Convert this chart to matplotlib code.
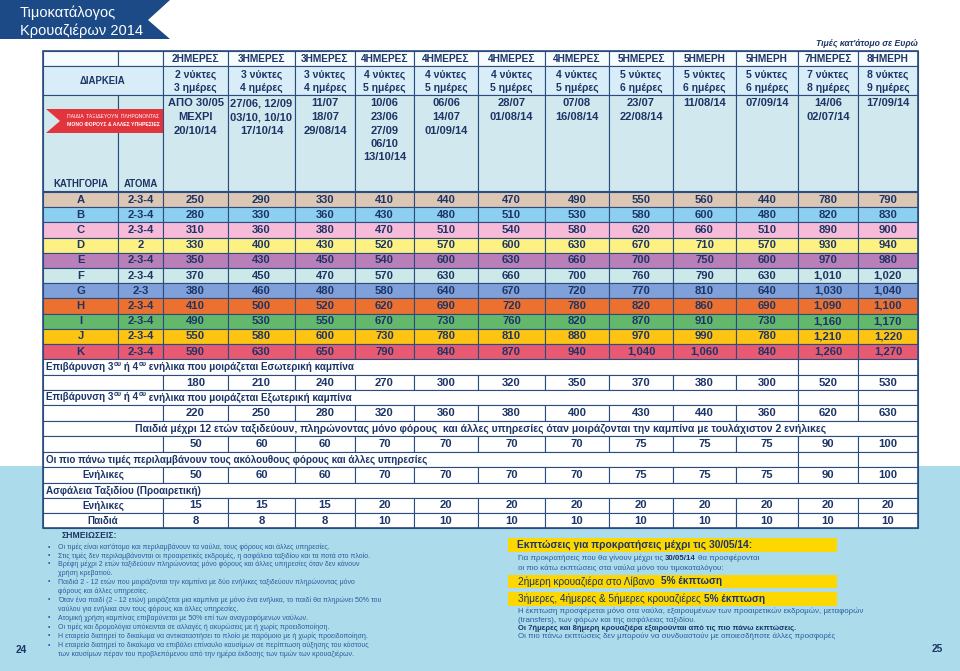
import matplotlib
matplotlib.use('Agg')
import matplotlib.pyplot as plt
from matplotlib.patches import Rectangle, Polygon

# ---- data ----
day_labels = ['2ΗΜΕΡΕΣ', '3ΗΜΕΡΕΣ', '3ΗΜΕΡΕΣ', '4ΗΜΕΡΕΣ', '4ΗΜΕΡΕΣ', '4ΗΜΕΡΕΣ',
              '4ΗΜΕΡΕΣ', '5ΗΜΕΡΕΣ', '5ΗΜΕΡΗ', '5ΗΜΕΡΗ', '7ΗΜΕΡΕΣ', '8ΗΜΕΡΗ']
nights = [2, 3, 3, 4, 4, 4, 4, 5, 5, 5, 7, 8]
days = [3, 4, 4, 5, 5, 5, 5, 6, 6, 6, 8, 9]
departures = [
    ['ΑΠΟ 30/05', 'ΜΕΧΡΙ', '20/10/14'],
    ['27/06, 12/09', '03/10, 10/10', '17/10/14'],
    ['11/07', '18/07', '29/08/14'],
    ['10/06', '23/06', '27/09', '06/10', '13/10/14'],
    ['06/06', '14/07', '01/09/14'],
    ['28/07', '01/08/14'],
    ['07/08', '16/08/14'],
    ['23/07', '22/08/14'],
    ['11/08/14'],
    ['07/09/14'],
    ['14/06', '02/07/14'],
    ['17/09/14'],
]
categories = ['A', 'B', 'C', 'D', 'E', 'F', 'G', 'H', 'I', 'J', 'K']
persons = ['2-3-4', '2-3-4', '2-3-4', '2', '2-3-4', '2-3-4', '2-3', '2-3-4', '2-3-4', '2-3-4', '2-3-4']
prices = [
    [250, 290, 330, 410, 440, 470, 490, 550, 560, 440, 780, 790],
    [280, 330, 360, 430, 480, 510, 530, 580, 600, 480, 820, 830],
    [310, 360, 380, 470, 510, 540, 580, 620, 660, 510, 890, 900],
    [330, 400, 430, 520, 570, 600, 630, 670, 710, 570, 930, 940],
    [350, 430, 450, 540, 600, 630, 660, 700, 750, 600, 970, 980],
    [370, 450, 470, 570, 630, 660, 700, 760, 790, 630, 1010, 1020],
    [380, 460, 480, 580, 640, 670, 720, 770, 810, 640, 1030, 1040],
    [410, 500, 520, 620, 690, 720, 780, 820, 860, 690, 1090, 1100],
    [490, 530, 550, 670, 730, 760, 820, 870, 910, 730, 1160, 1170],
    [550, 580, 600, 730, 780, 810, 880, 970, 990, 780, 1210, 1220],
    [590, 630, 650, 790, 840, 870, 940, 1040, 1060, 840, 1260, 1270],
]
inner_cabin = [180, 210, 240, 270, 300, 320, 350, 370, 380, 300, 520, 530]
outer_cabin = [220, 250, 280, 320, 360, 380, 400, 430, 440, 360, 620, 630]
children = [50, 60, 60, 70, 70, 70, 70, 75, 75, 75, 90, 100]
taxes_adults = [50, 60, 60, 70, 70, 70, 70, 75, 75, 75, 90, 100]
insurance_adults = [15, 15, 15, 20, 20, 20, 20, 20, 20, 20, 20, 20]
insurance_children = [8, 8, 8, 10, 10, 10, 10, 10, 10, 10, 10, 10]

notes = [
    (True, 'Οι τιμές είναι κατ\'άτομο και περιλαμβάνουν τα ναύλα, τους φόρους και άλλες υπηρεσίες.'),
    (True, 'Στις τιμές δεν περιλαμβάνονται οι προαιρετικές εκδρομές, η ασφάλεια ταξιδίου και τα ποτά στο πλοίο.'),
    (True, 'Βρέφη μέχρι 2 ετών ταξιδεύουν πληρώνοντας μόνο φόρους και άλλες υπηρεσίες όταν δεν κάνουν'),
    (False, 'χρήση κρεβατιού.'),
    (True, 'Παιδιά 2 - 12 ετών που μοιράζονται την καμπίνα με δύο ενήλικες ταξιδεύουν πληρώνοντας μόνο'),
    (False, 'φόρους και άλλες υπηρεσίες.'),
    (True, 'Όταν ένα παιδί (2 - 12 ετών) μοιράζεται μια καμπίνα με μόνο ένα ενήλικα, το παιδί θα πληρώνει 50% του'),
    (False, 'ναύλου για ενήλικα συν τους φόρους και άλλες υπηρεσίες.'),
    (True, 'Ατομική χρήση καμπίνας επιβαρύνεται με 50% επί των αναγραφόμενων ναύλων.'),
    (True, 'Οι τιμές και δρομολόγια υπόκεινται σε αλλαγές ή ακυρώσεις με ή χωρίς προειδοποίηση.'),
    (True, 'Η εταιρεία διατηρεί το δικαίωμα να αντικαταστήσει το πλοίο με παρόμοιο με ή χωρίς προειδοποίηση.'),
    (True, 'Η εταιρεία διατηρεί το δικαίωμα να επιβάλει επίναυλο καυσίμων σε περίπτωση αύξησης του κόστους'),
    (False, 'των καυσίμων πέραν του προβλεπόμενου από την ημέρα έκδοσης των τιμών των κρουαζιέρων.'),
]

# ---- style ----
SANS = 'Liberation Sans'
NAVY = '#1c3566'
LINE = '#2b4c7e'
NOTE = '#2b5c9c'
row_colors = ['#dcc6b4', '#8dcff0', '#f6bbd9', '#fdf183', '#b97fb8', '#cde8e8',
              '#7fa0d8', '#ec7030', '#64b86c', '#fec414', '#e85a72']
col_x = [43, 118, 163, 228, 295, 355, 414, 478, 545, 609, 673, 736, 798, 858, 918]

fig = plt.figure(figsize=(9.6, 6.71), dpi=100)
ax = fig.add_axes([0, 0, 1, 1])
ax.set_xlim(0, 960)
ax.set_ylim(671, 0)
ax.axis('off')
R = fig.canvas.get_renderer()


def txt(x, y, s, size=7.5, weight='bold', color=NAVY, ha='center', width=None, **kw):
    t = ax.text(x, y, s, fontsize=size, fontweight=weight, color=color, ha=ha,
                va='center', family=SANS, zorder=6, **kw)
    if width:
        w = t.get_window_extent(R).width
        t.set_fontsize(size * width / w)
    return t


def fit_size(s, width, size=6, weight='normal'):
    t = txt(0, 0, s, size=size, weight=weight)
    w = t.get_window_extent(R).width
    t.remove()
    return size * width / w


def runs(x, y, parts):
    for s, kw in parts:
        kw = dict(kw)
        dy = kw.pop('dy', 0)
        gap = kw.pop('gap', 0)
        t = txt(x, y + dy, s, ha='left', **kw)
        x += t.get_window_extent(R).width + gap
    return x


def cell(x0, x1, y0, y1, fc='white', lw=0.8):
    ax.add_patch(Rectangle((x0, y0), x1 - x0, y1 - y0, facecolor=fc,
                           edgecolor=LINE, lw=lw, zorder=2))


# font sizes from reference word widths (a bit larger, the original face is narrow)
FS = fit_size('470', 18, weight='bold') * 1.06
DS = fit_size('2ΗΜΕΡΕΣ', 45, weight='bold') * 1.06
NS = fit_size('3 νύκτες', 38, weight='bold') * 1.1
TS = fit_size('27/06, 12/09', 63, weight='bold')
KS = fit_size('ΚΑΤΗΓΟΡΙΑ', 55, weight='bold')
LS = fit_size('Οι πιο πάνω τιμές περιλαμβάνουν τους ακόλουθους φόρους και άλλες υπηρεσίες', 361,
              weight='bold') * 1.08

# background
ax.add_patch(Rectangle((0, 466), 960, 205, facecolor='#acdcec', edgecolor='none', zorder=0))

# title banner
ax.add_patch(Polygon([(0, 0), (170, 0), (148, 20), (170, 39), (0, 39)],
                     closed=True, facecolor='#1b4a86', edgecolor='none', zorder=1))
txt(20, 13, 'Τιμοκατάλογος', size=10.5, weight='normal', color='white', ha='left')
txt(20, 31, 'Κρουαζιέρων 2014', size=10.5, weight='normal', color='white', ha='left')
txt(918, 43, 'Τιμές κατ\'άτομο σε Ευρώ', size=6, ha='right', style='italic', width=103)

# header rows
h0, h1, h2, h3 = 51, 66, 95, 191
cell(col_x[0], col_x[1], h0, h1, '#f6fbfd')
cell(col_x[1], col_x[2], h0, h1, '#f6fbfd')
cell(col_x[0], col_x[2], h1, h2, '#d8edf7')
cell(col_x[0], col_x[1], h2, h3, '#d1e8ee')
cell(col_x[1], col_x[2], h2, h3, '#d1e8ee')
txt((col_x[0] + col_x[2]) / 2, 81, 'ΔΙΑΡΚΕΙΑ', size=KS)
txt((col_x[0] + col_x[1]) / 2, 184, 'ΚΑΤΗΓΟΡΙΑ', size=KS)
txt((col_x[1] + col_x[2]) / 2, 184, 'ΑΤΟΜΑ', size=KS)
for j in range(12):
    x0, x1 = col_x[j + 2], col_x[j + 3]
    xc = (x0 + x1) / 2
    cell(x0, x1, h0, h1, '#f6fbfd')
    cell(x0, x1, h1, h2, '#d8edf7')
    cell(x0, x1, h2, h3, '#d1e8ee')
    txt(xc, 58.5, day_labels[j], size=DS)
    txt(xc, 75, f'{nights[j]} νύκτες', size=NS)
    txt(xc, 87.5, f'{days[j]} ημέρες', size=NS)
    for k, line in enumerate(departures[j]):
        txt(xc, 103.5 + 13.5 * k, line, size=TS)

# red banner
ax.add_patch(Polygon([(46, 109), (163, 109), (163, 133), (46, 133), (60, 121)],
                     closed=True, facecolor='#e2343c', edgecolor='none', zorder=4))
txt(113, 117, 'ΠΑΙΔΙΑ  ΤΑΞΙΔΕΥΟΥΝ  ΠΛΗΡΩΝΟΝΤΑΣ', size=4, color='white', weight='normal', width=93)
txt(113, 125, 'ΜΟΝΟ ΦΟΡΟΥΣ & ΑΛΛΕΣ ΥΠΗΡΕΣΙΕΣ', size=4, color='white', width=93)

# category rows
rh = 15.2
for i, cat in enumerate(categories):
    y0 = 192 + rh * i
    y1 = y0 + rh
    yc = (y0 + y1) / 2
    fc = row_colors[i]
    cell(col_x[0], col_x[1], y0, y1, fc)
    cell(col_x[1], col_x[2], y0, y1, fc)
    txt((col_x[0] + col_x[1]) / 2, yc, cat, size=FS)
    txt((col_x[1] + col_x[2]) / 2, yc, persons[i], size=FS)
    for j in range(12):
        cell(col_x[j + 2], col_x[j + 3], y0, y1, fc)
        txt((col_x[j + 2] + col_x[j + 3]) / 2, yc, f'{prices[i][j]:,}', size=FS)

# lower section
rows_y = [359, 375, 390, 405, 421, 436, 452, 467, 483, 498, 513, 528]


def label_row(r, parts, full=False, center=False):
    y0, y1 = rows_y[r], rows_y[r + 1]
    if full:
        cell(col_x[0], col_x[-1], y0, y1)
    else:
        cell(col_x[0], col_x[12], y0, y1)
        cell(col_x[12], col_x[13], y0, y1)
        cell(col_x[13], col_x[14], y0, y1)
    if center:
        txt((col_x[0] + col_x[-1]) / 2, (y0 + y1) / 2, parts, width=690)
    else:
        runs(46, (y0 + y1) / 2, parts)


def value_row(r, vals, label=''):
    y0, y1 = rows_y[r], rows_y[r + 1]
    yc = (y0 + y1) / 2
    cell(col_x[0], col_x[2], y0, y1)
    if label:
        txt((col_x[0] + col_x[2]) / 2, yc, label, size=LS)
    for j, v in enumerate(vals):
        cell(col_x[j + 2], col_x[j + 3], y0, y1)
        txt((col_x[j + 2] + col_x[j + 3]) / 2, yc, f'{v:,}', size=FS)


big = dict(size=LS)
sup = dict(size=LS * 0.68, dy=-3)
label_row(0, [('Επιβάρυνση 3', big), ('ου', sup), (' ή 4', big), ('ου', sup),
              (' ενήλικα που μοιράζεται Εσωτερική καμπίνα', big)])
value_row(1, inner_cabin)
label_row(2, [('Επιβάρυνση 3', big), ('ου', sup), (' ή 4', big), ('ου', sup),
              (' ενήλικα που μοιράζεται Εξωτερική καμπίνα', big)])
value_row(3, outer_cabin)
label_row(4, 'Παιδιά μέχρι 12 ετών ταξιδεύουν, πληρώνοντας μόνο φόρους  και άλλες υπηρεσίες '
             'όταν μοιράζονται την καμπίνα με τουλάχιστον 2 ενήλικες', full=True, center=True)
value_row(5, children)
label_row(6, [('Οι πιο πάνω τιμές περιλαμβάνουν τους ακόλουθους φόρους και άλλες υπηρεσίες', big)])
value_row(7, taxes_adults, 'Ενήλικες')
label_row(8, [('Ασφάλεια Ταξιδίου (Προαιρετική)', big)], full=True)
value_row(9, insurance_adults, 'Ενήλικες')
value_row(10, insurance_children, 'Παιδιά')

# outer border
ax.add_patch(Rectangle((col_x[0], 51), col_x[-1] - col_x[0], 528 - 51, facecolor='none',
                       edgecolor=LINE, lw=1.2, zorder=5))

# notes (left)
txt(62, 536, 'ΣΗΜΕΙΩΣΕΙΣ:', size=7, ha='left', width=55)
ns = fit_size(notes[1][1], 319)
note_y = [547, 556, 564, 573, 582, 591, 600, 609, 618, 627, 636, 645, 654]
for (bullet, line), y in zip(notes, note_y):
    if bullet:
        txt(49, y, '•', size=5, color=NOTE, weight='normal')
    txt(58, y, line, size=ns, color=NOTE, weight='normal', ha='left')
txt(21, 650, '24', size=FS * 0.9)
txt(937, 649, '25', size=FS * 0.9)

# discounts (right)
YEL = '#fcd800'
for y0, y1 in [(538, 552), (575, 588), (592, 606)]:
    ax.add_patch(Rectangle((508, y0), 837 - 508, y1 - y0, facecolor=YEL, edgecolor='none', zorder=1))
txt(517, 545, 'Εκπτώσεις για προκρατήσεις μέχρι τις 30/05/14:', size=7, ha='left', width=235)
ss = fit_size('οι πιο κάτω εκπτώσεις στα ναύλα μόνο του τιμοκαταλόγου:', 207)
runs(518, 558, [('Για προκρατήσεις που θα γίνουν μέχρι τις', dict(size=ss, weight='normal', color=NOTE, gap=2)),
                ('30/05/14', dict(size=ss, gap=2)),
                ('θα προσφέρονται', dict(size=ss, weight='normal', color=NOTE))])
txt(518, 568, 'οι πιο κάτω εκπτώσεις στα ναύλα μόνο του τιμοκαταλόγου:', size=ss,
    weight='normal', color=NOTE, ha='left')
bs = fit_size('2ήμερη κρουαζιέρα στο Λίβανο', 139)
runs(518, 581.5, [('2ήμερη κρουαζιέρα στο Λίβανο', dict(size=bs, weight='normal', gap=6)),
                  ('5% έκπτωση', dict(size=bs))])
runs(518, 599, [('3ήμερες, 4ήμερες & 5ήμερες κρουαζιέρες', dict(size=bs, weight='normal', gap=3)),
                ('5% έκπτωση', dict(size=bs))])
txt(518, 611, 'Η έκπτωση προσφέρεται μόνο στα ναύλα, εξαιρουμένων των προαιρετικών εκδρομών, μεταφορών',
    size=ss, weight='normal', color=NOTE, ha='left')
txt(518, 620, '(transfers), των φόρων και της ασφάλειας ταξιδίου.', size=ss, weight='normal',
    color=NOTE, ha='left')
txt(518, 628, 'Οι 7ήμερες και 8ήμερη κρουαζιέρα εξαιρούνται από τις πιο πάνω εκπτώσεις.',
    size=6, ha='left', width=285)
txt(518, 636, 'Οι πιο πάνω εκπτώσεις δεν μπορούν να συνδυαστούν με οποιεσδήποτε άλλες προσφορές',
    size=ss, weight='normal', color=NOTE, ha='left')

fig.savefig('out.png', dpi=100)
